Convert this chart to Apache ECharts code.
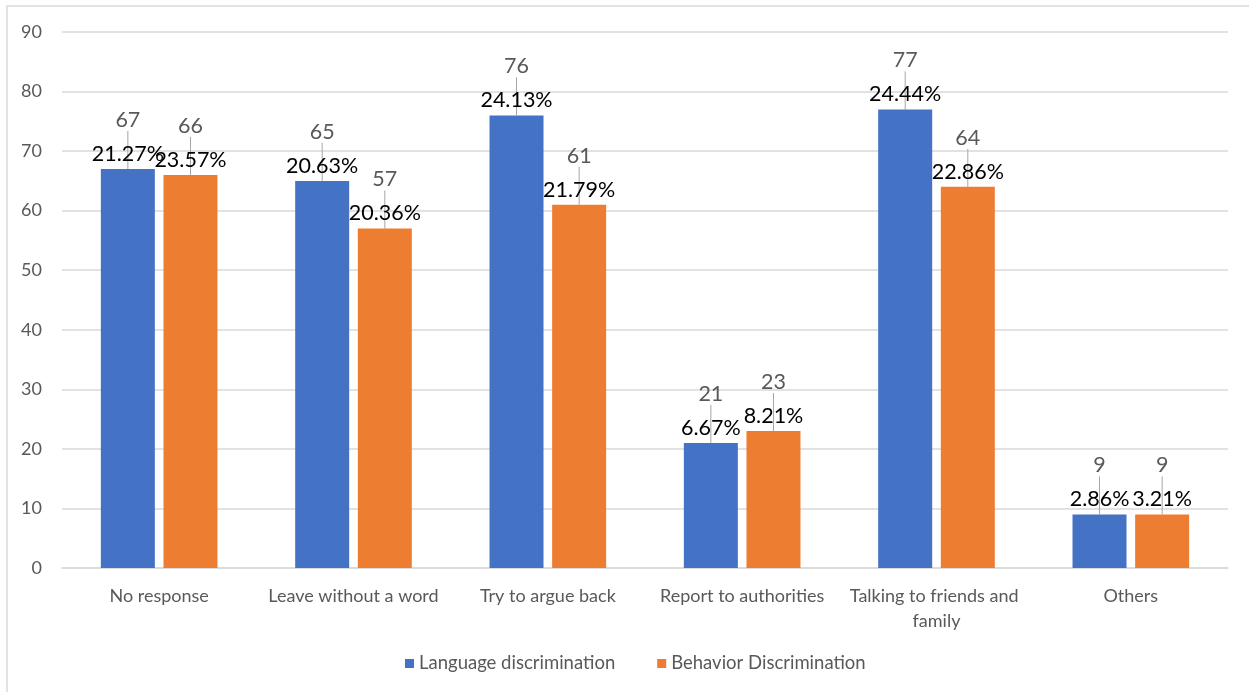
<!DOCTYPE html>
<html>
<head>
<meta charset="utf-8">
<script src="https://cdn.jsdelivr.net/npm/echarts@6/dist/echarts.min.js"></script>
<style>
  html, body { margin: 0; padding: 0; background: #fff; }
  #chart { width: 1249px; height: 692px; }
</style>
</head>
<body>
<div id="chart"></div>
<script>
// Responses to discrimination, counts and share of each group
const categories = ['No response', 'Leave without a word', 'Try to argue back', 'Report to authorities', 'Talking to friends and family', 'Others'];
const languageCounts = [67, 65, 76, 21, 77, 9];
const behaviorCounts = [66, 57, 61, 23, 64, 9];
const languagePct = ['21.27%', '20.63%', '24.13%', '6.67%', '24.44%', '2.86%'];
const behaviorPct = ['23.57%', '20.36%', '21.79%', '8.21%', '22.86%', '3.21%'];
const seriesNames = ['Language discrimination', 'Behavior Discrimination'];

const FONT = 'Lato, "Open Sans", sans-serif';
const BLUE = '#4472C4';
const ORANGE = '#ED7D31';
const BAR_W = 54;
const BAR_GAP = '16%';

const chart = echarts.init(document.getElementById('chart'), null, { renderer: 'canvas' });

function mainSeries(name, data, pct, color) {
  return {
    name: name,
    type: 'bar',
    xAxisIndex: 0,
    barWidth: BAR_W,
    barGap: BAR_GAP,
    itemStyle: { color: color },
    data: data,
    label: {
      show: true,
      position: 'top',
      distance: 4,
      color: '#000',
      fontFamily: FONT,
      fontSize: 21.5,
      formatter: p => pct[p.dataIndex]
    },
    z: 3
  };
}

// Transparent twin bars carrying the count labels with their leader lines
function countSeries(data) {
  return {
    type: 'bar',
    xAxisIndex: 1,
    barWidth: BAR_W,
    barGap: BAR_GAP,
    itemStyle: { color: 'rgba(0,0,0,0)' },
    data: data,
    silent: true,
    label: {
      show: true,
      position: 'top',
      distance: 0,
      color: '#595959',
      fontFamily: FONT,
      fontSize: 21.5,
      formatter: '{c}'
    },
    labelLayout: { dy: -38 },
    labelLine: {
      show: true,
      lineStyle: { color: '#a6a6a6', width: 1 }
    },
    z: 2
  };
}

chart.setOption({
  animation: false,
  backgroundColor: '#fff',
  graphic: [{
    type: 'rect',
    shape: { x: 7, y: 6, width: 1300, height: 720 },
    style: { fill: 'none', stroke: '#d9d9d9', lineWidth: 1.5 },
    silent: true
  }],
  grid: { left: 62, right: 21, top: 32, bottom: 124, containLabel: false },
  legend: {
    data: seriesNames,
    bottom: 14,
    left: 400,
    itemWidth: 9,
    itemHeight: 9,
    itemGap: 42,
    icon: 'rect',
    textStyle: { color: '#595959', fontFamily: FONT, fontSize: 18.5 }
  },
  xAxis: [{
    type: 'category',
    data: categories,
    axisLine: { show: true, lineStyle: { color: '#d9d9d9', width: 1.5 } },
    axisTick: { show: false },
    axisLabel: {
      color: '#595959',
      fontFamily: FONT,
      fontSize: 18,
      margin: 16,
      width: 185,
      overflow: 'break',
      lineHeight: 25,
      interval: 0
    }
  }, {
    type: 'category',
    data: categories,
    show: false
  }],
  yAxis: {
    type: 'value',
    min: 0,
    max: 90,
    interval: 10,
    axisLine: { show: false },
    axisTick: { show: false },
    splitLine: { lineStyle: { color: '#d9d9d9', width: 1.5 } },
    axisLabel: { color: '#595959', fontFamily: FONT, fontSize: 18, margin: 20 }
  },
  series: [
    mainSeries(seriesNames[0], languageCounts, languagePct, BLUE),
    mainSeries(seriesNames[1], behaviorCounts, behaviorPct, ORANGE),
    countSeries(languageCounts),
    countSeries(behaviorCounts)
  ]
});
</script>
</body>
</html>
